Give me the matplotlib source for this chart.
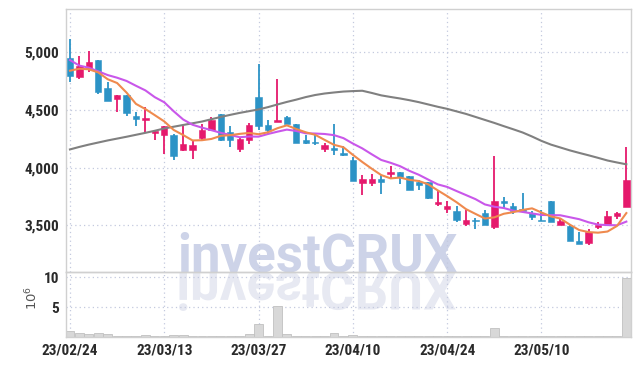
# 캔들 차트 + 거래량 (investCRUX 스타일)
import numpy as np
import matplotlib
matplotlib.use('Agg')
import matplotlib.pyplot as plt
from matplotlib.textpath import TextPath
from matplotlib.patches import PathPatch
from matplotlib.font_manager import FontProperties
from matplotlib.transforms import Affine2D
from matplotlib.ticker import FuncFormatter

DATE_TICKS = [0, 10, 20, 30, 40, 50]
DATE_LABELS = ['23/02/24', '23/03/13', '23/03/27', '23/04/10', '23/04/24', '23/05/10']

opens = [4948, 4790, 4867, 4934, 4692, 4599, 4631, 4450, 4409, 4297,
         4282, 4282, 4150, 4150, 4254, 4326, 4467, 4311, 4161, 4242,
         4611, 4369, 4392, 4438, 4377, 4239, 4225, 4158, 4170, 4130,
         4069, 3870, 3864, 3905, 3942, 3965, 3931, 3873, 3879, 3683,
         3645, 3620, 3510, 3550, 3611, 3487, 3715, 3671, 3645, 3608,
         3550, 3715, 3501, 3493, 3360, 3346, 3484, 3510, 3579, 3657]
highs = [5112, 4968, 5014, 4934, 4746, 4631, 4631, 4487, 4530, 4314,
         4363, 4291, 4363, 4236, 4377, 4438, 4467, 4363, 4265, 4386,
         4899, 4409, 4767, 4450, 4377, 4282, 4282, 4213, 4375, 4184,
         4089, 3937, 3942, 3937, 4011, 3965, 3931, 3896, 3879, 3810,
         3715, 3671, 3637, 3565, 3637, 4098, 3744, 3694, 3781, 3622,
         3637, 3715, 3565, 3513, 3444, 3464, 3530, 3628, 3617, 4179]
lows = [4746, 4767, 4833, 4640, 4575, 4487, 4444, 4357, 4300, 4242,
        4121, 4069, 4141, 4075, 4236, 4326, 4228, 4179, 4133, 4207,
        4329, 4294, 4392, 4375, 4213, 4207, 4196, 4133, 4109, 4098,
        3882, 3764, 3839, 3775, 3902, 3856, 3804, 3810, 3729, 3671,
        3608, 3527, 3493, 3470, 3504, 3470, 3651, 3602, 3617, 3550,
        3533, 3527, 3501, 3363, 3340, 3328, 3464, 3510, 3559, 3657]
closes = [4798, 4882, 4916, 4657, 4582, 4631, 4470, 4426, 4432, 4314,
          4363, 4098, 4207, 4196, 4328, 4415, 4236, 4236, 4251, 4369,
          4357, 4323, 4409, 4375, 4213, 4213, 4213, 4193, 4156, 4112,
          3882, 3902, 3905, 3879, 3965, 3919, 3804, 3853, 3735, 3706,
          3666, 3542, 3550, 3533, 3504, 3715, 3697, 3622, 3628, 3573,
          3533, 3527, 3533, 3363, 3340, 3441, 3501, 3585, 3605, 3896]

# 이동평균선
ma5 = [4841, 4858, 4853, 4826, 4767, 4734, 4651, 4553, 4508, 4455,
       4401, 4327, 4283, 4236, 4238, 4249, 4276, 4282, 4293, 4301,
       4290, 4307, 4342, 4367, 4335, 4307, 4285, 4241, 4198, 4177,
       4111, 4049, 3991, 3936, 3907, 3914, 3894, 3884, 3855, 3803,
       3753, 3700, 3640, 3599, 3559, 3569, 3600, 3614, 3633, 3647,
       3611, 3577, 3559, 3506, 3459, 3441, 3436, 3446, 3494, 3606]
ma10 = [4933, 4885, 4867, 4835, 4803, 4780, 4752, 4710, 4670, 4611,
        4567, 4489, 4418, 4372, 4347, 4325, 4302, 4283, 4264, 4270,
        4269, 4292, 4312, 4330, 4318, 4298, 4296, 4292, 4282, 4256,
        4209, 4167, 4116, 4067, 4042, 4013, 3972, 3938, 3896, 3855,
        3833, 3797, 3762, 3727, 3681, 3661, 3650, 3627, 3616, 3603,
        3590, 3588, 3587, 3570, 3553, 3526, 3506, 3502, 3500, 3532]
ma60 = [4158, 4180, 4200, 4218, 4236, 4252, 4268, 4285, 4302, 4320,
        4340, 4355, 4370, 4385, 4400, 4420, 4440, 4458, 4475, 4490,
        4505, 4525, 4548, 4570, 4590, 4612, 4630, 4643, 4652, 4660,
        4664, 4667, 4648, 4627, 4613, 4600, 4585, 4568, 4548, 4528,
        4510, 4488, 4466, 4440, 4414, 4388, 4360, 4333, 4305, 4270,
        4232, 4200, 4175, 4150, 4128, 4107, 4085, 4062, 4045, 4029]

# 거래량 (x 10^6)
volumes = [1.05, 0.6, 0.45, 0.65, 0.45, 0.25, 0.25, 0.1, 0.3, 0.2,
           0.1, 0.3, 0.3, 0.1, 0.1, 0.15, 0.25, 0.1, 0.15, 0.45,
           2.2, 0.25, 5.2, 0.45, 0.25, 0.1, 0.1, 0.12, 0.65, 0.15,
           0.3, 0.1, 0.1, 0.1, 0.1, 0.1, 0.1, 0.1, 0.1, 0.1,
           0.1, 0.1, 0.1, 0.1, 0.1, 1.45, 0.12, 0.1, 0.12, 0.1,
           0.1, 0.12, 0.1, 0.1, 0.12, 0.1, 0.1, 0.1, 0.1, 9.85]

UP = '#e5196c'
DOWN = '#2c93c6'
GRID = '#c3c9de'
SPINE = '#d0d0d0'
TICK_FONT = ['Roboto Condensed', 'DejaVu Sans']

W, H = 639, 366
fig = plt.figure(figsize=(W / 100, H / 100), dpi=100)
ax = fig.add_axes([66 / W, 1 - 272 / H, 564.5 / W, 263 / H])
axv = fig.add_axes([66 / W, 1 - 337 / H, 564.5 / W, 65 / H], sharex=ax)

o, h, l, c = (np.array(v, dtype=float) for v in (opens, highs, lows, closes))
x = np.arange(len(c))
cols = [UP if cc >= oo else DOWN for oo, cc in zip(o, c)]

ax.vlines(x, l, h, colors=cols, lw=1.3, zorder=2)
ax.bar(x, np.maximum(np.abs(c - o), 5), bottom=np.minimum(o, c), width=0.68,
       color=cols, edgecolor=cols, lw=0.4, zorder=3)
ax.plot(x, ma60, color='#808080', lw=1.5, zorder=4)
ax.plot(x, ma10, color='#c957ea', lw=1.5, zorder=4)
ax.plot(x, ma5, color='#ef8a4e', lw=1.5, zorder=5)

axv.bar(x, volumes, width=0.95, color='#d8d8d8', edgecolor='#c0c0c0', lw=0.6, zorder=2)

ax.set_xlim(-0.42, 59.44)
ax.set_ylim(3095, 5376)
axv.set_ylim(0, 10.9)

ax.set_yticks([3500, 4000, 4500, 5000])
ax.yaxis.set_major_formatter(FuncFormatter(lambda v, p: '{:,.0f}'.format(v)))
axv.set_yticks([5, 10])
axv.set_xticks(DATE_TICKS)
axv.set_xticklabels(DATE_LABELS)
ax.tick_params(axis='x', labelbottom=False)

for a in (ax, axv):
    a.set_facecolor('none')
    a.grid(True, ls=(0, (1, 2.5)), c=GRID, lw=0.9)
    a.set_axisbelow(True)
    for s in a.spines.values():
        s.set_color(SPINE)
        s.set_linewidth(1.0)
    a.tick_params(length=0, pad=5, labelcolor='#2a2a2a', labelsize=11)
    for t in a.get_xticklabels() + a.get_yticklabels():
        t.set_family(TICK_FONT)
        t.set_stretch('condensed')
        t.set_fontweight('bold')

axv.set_ylabel(r'$10^6$', fontsize=9.5, color='#555555', rotation=90)
axv.yaxis.set_label_coords(-0.045, 0.6)

# 워터마크
fig.text(317.5 / W, 1 - 272 / H, 'investCRUX', fontsize=38, family='Roboto',
         fontweight='bold', color='#cdd3e8', ha='center', va='baseline', zorder=-1)
fp = FontProperties(family='Roboto', weight='bold')
tp = TextPath((0, 0), 'investCRUX', size=38 * 100 / 72, prop=fp)
ext = tp.get_extents()
tr = Affine2D().scale(1, -1).translate(317.5 - (ext.x0 + ext.x1) / 2, H - 272)
fig.add_artist(PathPatch(tp, transform=tr, facecolor='#e7e9f2', edgecolor='none', zorder=-1))

fig.savefig('out.png', dpi=100)
